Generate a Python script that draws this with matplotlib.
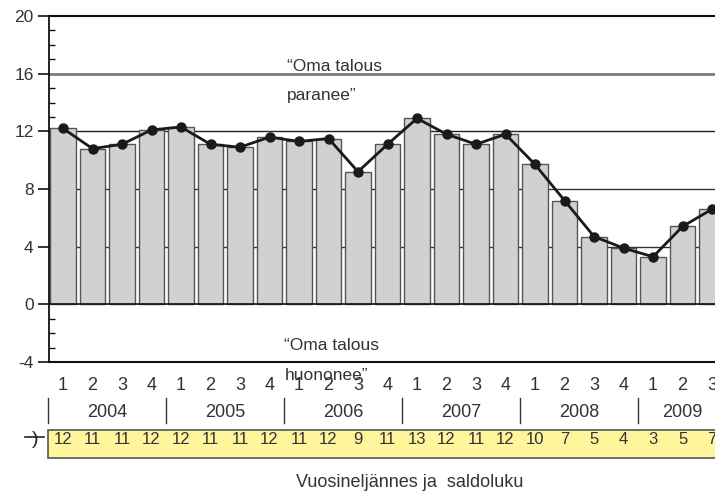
"""
Quarterly balance figure: own economy expectations, 2004-2009.
"""

import matplotlib
matplotlib.use('Agg')
import matplotlib.pyplot as plt
from matplotlib.patches import Rectangle
from matplotlib.lines import Line2D
from matplotlib.ticker import MultipleLocator

plt.rcParams['font.family'] = ['Liberation Sans', 'DejaVu Sans']
plt.rcParams['axes.unicode_minus'] = False

# Data
quarters = ['1', '2', '3', '4'] * 5 + ['1', '2', '3']
years = ['2004', '2005', '2006', '2007', '2008', '2009']
bar_values = [12.2, 10.8, 11.1, 12.1, 12.3, 11.1, 10.9, 11.6,
              11.3, 11.5, 9.2, 11.1, 12.9, 11.8, 11.1, 11.8,
              9.7, 7.2, 4.7, 3.9, 3.3, 5.4, 6.6]
line_values = bar_values
saldo = [12, 11, 11, 12, 12, 11, 11, 12, 11, 12, 9, 11,
         13, 12, 11, 12, 10, 7, 5, 4, 3, 5, 7]

TXT = '#333333'

fig = plt.figure(figsize=(7.15, 4.95), dpi=100)
ax = fig.add_axes([49 / 715, (495 - 362) / 495, 666 / 715, 346 / 495])

x = list(range(len(bar_values)))

# Horizontal reference lines behind the bars
ax.axhline(16, color='#7a7a7a', lw=2.0, zorder=0.5)
ax.axhline(12, color='#222222', lw=1.0, zorder=0.5)
ax.axhline(8, color='#333333', lw=1.0, zorder=0.5)
ax.axhline(4, color='#333333', lw=1.0, zorder=0.5)

ax.bar(x, bar_values, width=0.86, color='#d0d1d3', edgecolor='#555555',
       linewidth=1.0, zorder=2)
ax.axhline(0, color='#111111', lw=1.2, zorder=2.5)
ax.plot(x, line_values, color='#1a1a1a', lw=2.0, marker='o',
        markersize=6.5, zorder=3)

ax.set_xlim(-0.475, 22.1)
ax.set_ylim(-4, 20)

# Axes frame
ax.spines['right'].set_visible(False)
ax.spines['top'].set_linewidth(1.5)
ax.spines['bottom'].set_linewidth(1.5)
ax.spines['left'].set_linewidth(1.3)
for side in ['top', 'bottom', 'left']:
    ax.spines[side].set_color('#111111')

ax.yaxis.set_major_locator(MultipleLocator(4))
ax.yaxis.set_minor_locator(MultipleLocator(1))
ax.tick_params(axis='y', which='major', direction='out', length=8,
               width=1.2, color='#111111', labelsize=12.5, labelcolor=TXT, pad=3)
ax.tick_params(axis='y', which='minor', direction='in', length=4,
               width=1.0, color='#111111')
ax.set_xticks([])

# Annotations
ax.text(7.6, 16.5, '\u201cOma talous', ha='left', va='center',
        fontsize=12.5, color=TXT, zorder=4)
ax.text(7.6, 14.5, 'paranee\u201d', ha='left', va='center',
        fontsize=12.5, color=TXT, zorder=4)
ax.text(7.5, -2.85, '\u201cOma talous', ha='left', va='center',
        fontsize=12.5, color=TXT, zorder=4)
ax.text(7.5, -4.95, 'huononee\u201d', ha='left', va='center',
        fontsize=12.5, color=TXT, zorder=4, clip_on=False)

# Category axis: quarters, years and the balance strip
tr = ax.get_xaxis_transform()
for xi, q in zip(x, quarters):
    ax.text(xi, -0.069, q, transform=tr, ha='center', va='center',
            fontsize=13, color=TXT)

year_pos = [1.5, 5.5, 9.5, 13.5, 17.5, 21.0]
for xp, yr in zip(year_pos, years):
    ax.text(xp, -0.145, yr, transform=tr, ha='center', va='center',
            fontsize=13, color=TXT)
for sep in [-0.5, 3.5, 7.5, 11.5, 15.5, 19.5]:
    ax.add_line(Line2D([sep, sep], [-0.104, -0.176], transform=tr,
                       color='#333333', lw=1.0, clip_on=False))

ax.add_patch(Rectangle((-0.5, -0.277), 23.5, 0.08, transform=tr,
                       facecolor='#fff59c', edgecolor='#555555', lw=1.2,
                       clip_on=False))
for xi, s in zip(x, saldo):
    ax.text(xi, -0.223, str(s), transform=tr, ha='center', va='center',
            fontsize=12, color=TXT)

# Small balance symbol left of the strip
fig.add_artist(Line2D([25 / 715, 44 / 715], [1 - 437 / 495, 1 - 437 / 495],
                      color='#222222', lw=1.2))
fig.text(35 / 715, 1 - 439 / 495, ')', ha='center', va='center',
         fontsize=14, color='#222222')

ax.text(11.75, -0.347, 'Vuosineljännes ja  saldoluku',
        transform=tr, ha='center', va='center', fontsize=13, color=TXT)

fig.savefig('out.png', dpi=100)
